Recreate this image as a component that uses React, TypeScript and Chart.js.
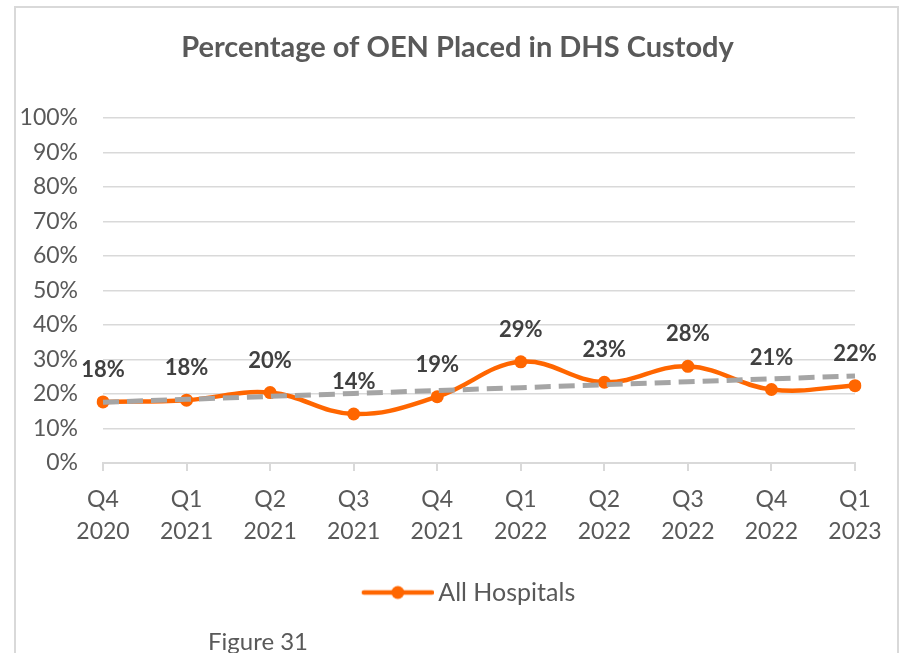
import React, { useEffect, useRef } from "react";
import { Chart, registerables } from "chart.js";

Chart.register(...registerables);

const quarters = ["Q4", "Q1", "Q2", "Q3", "Q4", "Q1", "Q2", "Q3", "Q4", "Q1"];
const years = ["2020", "2021", "2021", "2021", "2021", "2022", "2022", "2022", "2022", "2023"];
const allHospitals = [17.7, 18.2, 20.4, 14.2, 19.2, 29.3, 23.4, 28.0, 21.3, 22.4];
const yTicks = [0, 10, 20, 30, 40, 50, 60, 70, 80, 90, 100];

const FONT = "Lato, 'Open Sans', sans-serif";
const ORANGE = "#FF6600";
const TEXT = "#595959";
const GRID = "#D9D9D9";
const TREND = "#A5A5A5";

function linearTrend(vals: number[]): number[] {
  const n = vals.length;
  const mx = (n - 1) / 2;
  const my = vals.reduce((a, b) => a + b, 0) / n;
  let sxy = 0;
  let sxx = 0;
  vals.forEach((v, i) => {
    sxy += (i - mx) * (v - my);
    sxx += (i - mx) * (i - mx);
  });
  const slope = sxy / sxx;
  return vals.map((_, i) => my + slope * (i - mx));
}

// legend marker: a line with a dot, drawn in the right part of a wider image
function legendIcon(): HTMLCanvasElement {
  const c = document.createElement("canvas");
  c.width = 102;
  c.height = 16;
  const g = c.getContext("2d")!;
  g.strokeStyle = ORANGE;
  g.lineWidth = 4.5;
  g.lineCap = "round";
  g.beginPath();
  g.moveTo(32, 8);
  g.lineTo(100, 8);
  g.stroke();
  g.fillStyle = ORANGE;
  g.beginPath();
  g.arc(66, 8, 6.5, 0, Math.PI * 2);
  g.fill();
  return c;
}

const pointLabels = {
  id: "pointLabels",
  afterDatasetsDraw(chart: any) {
    const ctx = chart.ctx;
    const meta = chart.getDatasetMeta(0);
    const data = chart.data.datasets[0].data as number[];
    ctx.save();
    ctx.font = `bold 22px ${FONT}`;
    ctx.fillStyle = "#404040";
    ctx.textAlign = "center";
    ctx.textBaseline = "middle";
    meta.data.forEach((p: any, i: number) => {
      ctx.fillText(Math.round(data[i]) + "%", p.x, p.y - 32);
    });
    ctx.restore();
  },
};

export default function App() {
  const ref = useRef<HTMLCanvasElement>(null);

  useEffect(() => {
    document.body.style.overflow = "hidden";
    const labels = quarters.map((q, i) => [q, years[i]]);
    const chart = new Chart(ref.current!, {
      type: "line",
      data: {
        labels,
        datasets: [
          {
            label: "All Hospitals",
            data: allHospitals,
            borderColor: ORANGE,
            backgroundColor: ORANGE,
            borderWidth: 4.5,
            pointRadius: 6.5,
            pointBackgroundColor: ORANGE,
            pointBorderWidth: 0,
            tension: 0.4,
            order: 1,
          },
          {
            label: "Trend",
            data: linearTrend(allHospitals),
            borderColor: TREND,
            borderWidth: 5,
            borderDash: [16, 8],
            pointRadius: 0,
            tension: 0,
            order: 0,
          },
        ],
      },
      options: {
        animation: false,
        responsive: false,
        maintainAspectRatio: false,
        layout: { padding: { left: 20, right: 8, top: 0, bottom: 38 } },
        plugins: {
          tooltip: { enabled: false },
          title: {
            display: true,
            text: "Percentage of OEN Placed in DHS Custody",
            color: TEXT,
            font: { family: FONT, size: 29, weight: "bold" },
            padding: { top: 30, bottom: 53 },
          },
          legend: {
            position: "bottom",
            labels: {
              usePointStyle: true,
              pointStyle: legendIcon() as any,
              pointStyleWidth: 86,
              color: TEXT,
              font: { family: FONT, size: 25 },
              padding: 10,
              filter: (item: any) => item.datasetIndex === 0,
            },
          },
        },
        scales: {
          x: {
            offset: false,
            grid: {
              display: true,
              drawOnChartArea: false,
              drawTicks: true,
              tickLength: 8,
              color: GRID,
              lineWidth: 2,
            },
            border: { display: true, color: GRID, width: 2 },
            ticks: {
              color: TEXT,
              font: { family: FONT, size: 23, lineHeight: 1.4 },
              padding: 12,
              maxRotation: 0,
              autoSkip: false,
            },
            afterFit: (s: any) => {
              s.height = 107;
            },
          },
          y: {
            min: yTicks[0],
            max: yTicks[yTicks.length - 1],
            afterBuildTicks: (s: any) => {
              s.ticks = yTicks.map((v) => ({ value: v }));
            },
            grid: { color: GRID, lineWidth: 1.5, drawTicks: false },
            border: { display: false },
            ticks: {
              color: TEXT,
              font: { family: FONT, size: 23 },
              padding: 25,
              callback: (v: any) => v + "%",
            },
            afterFit: (s: any) => {
              s.width = 83;
            },
          },
          spacer: {
            type: "linear",
            position: "right",
            display: true,
            grid: { display: false },
            border: { display: false },
            ticks: { display: false },
            afterFit: (s: any) => {
              s.width = 40;
            },
          },
        },
      },
      plugins: [pointLabels],
    });
    return () => chart.destroy();
  }, []);

  return (
    <div style={{ position: "absolute", left: 0, top: 0, width: 903, height: 653, overflow: "hidden", background: "#fff" }}>
      <div
        style={{
          position: "absolute",
          left: 14,
          top: 6,
          width: 885,
          height: 660,
          border: `2px solid ${GRID}`,
          boxSizing: "border-box",
        }}
      />
      <div style={{ position: "absolute", left: 0, top: 0, width: 903, height: 653 }}>
        <canvas ref={ref} width={903} height={653} style={{ width: 903, height: 653 }} />
      </div>
      <div
        style={{
          position: "absolute",
          left: 208,
          top: 627,
          fontFamily: FONT,
          fontSize: 24,
          color: TEXT,
          lineHeight: "28px",
          whiteSpace: "nowrap",
        }}
      >
        Figure 31
      </div>
    </div>
  );
}
